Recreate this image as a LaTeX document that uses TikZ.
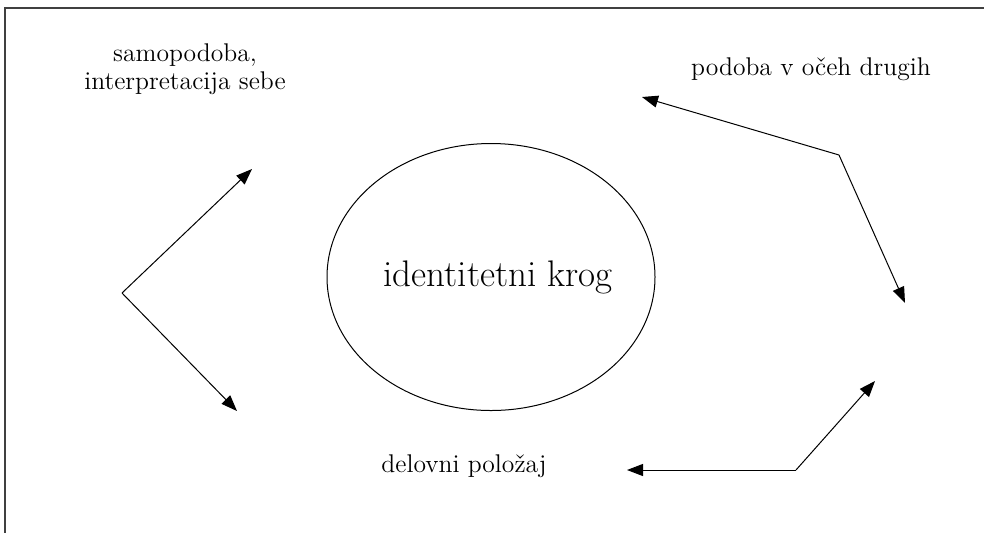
\documentclass[tikz,border=0pt]{standalone}
\usepackage{fontspec}
\usetikzlibrary{shapes.geometric, arrows, arrows.meta, calc}

\tikzstyle{frame} = [draw=black!75, line width=0.75pt]
\tikzstyle{circ} = [ellipse, draw=black, line width=0.5pt, minimum width=164pt, minimum height=133.5pt, inner sep=0pt, font=\fontsize{18.5}{22}\selectfont]
\tikzstyle{lbl} = [align=center, inner sep=0pt, font=\fontsize{12.8}{14}\selectfont]
\tikzstyle{arrow} = [line width=0.5pt, ->, >={Triangle[length=8pt, width=6pt]}]

\begin{document}
\begin{tikzpicture}[x=0.5pt, y=-0.5pt]
    \useasboundingbox (0,0) rectangle (984,532);
    \draw [frame] (5,545) -- (5,8) -- (995,8);

    \node (krog) [circ] at (491,277) {\makebox[0pt]{\hspace*{7pt}identitetni krog}};
    \node (samopodoba) [lbl] at (185,69) {samopodoba,\\interpretacija sebe};
    \node (drugi) [lbl, anchor=base] at (811,75) {podoba v očeh drugih};
    \node (polozaj) [lbl, anchor=base] at (464,472) {delovni položaj};

    \coordinate (left_bend) at (122,293);
    \coordinate (left_up) at (252,169);
    \coordinate (left_down) at (237,411);
    \coordinate (right_bend) at (839,155);
    \coordinate (right_up) at (642,97);
    \coordinate (right_down) at (905,303);
    \coordinate (low_bend) at (796,470);
    \coordinate (low_up) at (875,381);
    \coordinate (low_left) at (627,470);

    \draw [arrow] (left_bend) -- (left_up);
    \draw [arrow] (left_bend) -- (left_down);
    \draw [arrow] (right_bend) -- (right_up);
    \draw [arrow] (right_bend) -- (right_down);
    \draw [arrow] (low_bend) -- (low_up);
    \draw [arrow] (low_bend) -- (low_left);

\end{tikzpicture}
\end{document}
